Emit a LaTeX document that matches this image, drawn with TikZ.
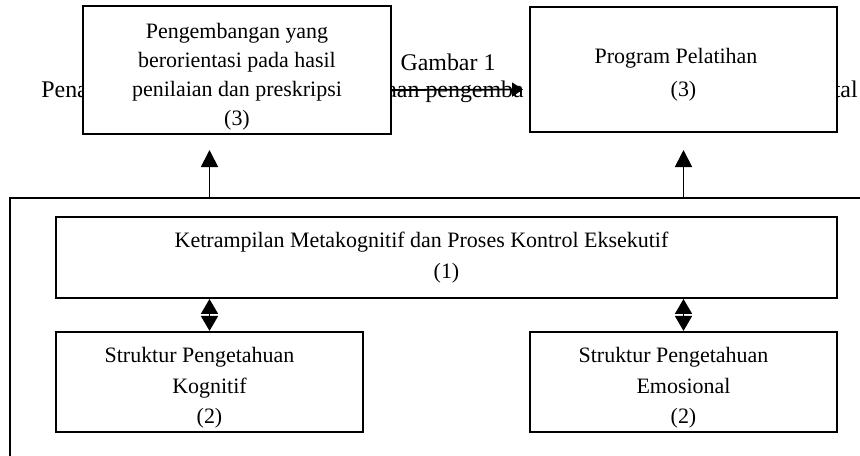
\documentclass[tikz,border=0pt]{standalone}
\usepackage{fontspec}
\setmainfont{Liberation Serif}
\usetikzlibrary{arrows.meta, positioning, calc}

\begin{document}
\begin{tikzpicture}[
  stagebox/.style={draw, line width=1.1pt, fill=white, align=center, inner sep=2pt, font=\fontsize{12.5}{17.5}\selectfont},
  caption/.style={font=\fontsize{13.6}{16}\selectfont, inner sep=0pt},
  link/.style={line width=1pt},
]
  \useasboundingbox (0,0) rectangle (17.2,-9.12);

  % Caption, mostly behind the boxes
  \node[caption, anchor=base] (fig) at (8.96,-1.40) {Gambar 1};
  \node[caption, anchor=base west] (capa) at (0.82,-1.94) {Pena};
  \node[caption, anchor=base west] (capb) at (7.72,-1.94) {aan pengemba};
  \node[caption, anchor=base east] (capc) at (17.16,-1.94) {tal};

  % Outcomes
  \node[stagebox, font=\fontsize{12.5}{16.5}\selectfont, minimum width=6.16cm, minimum height=2.52cm] (develop) at (4.74,-1.40) {
    \rule{0pt}{0.58cm}Pengembangan yang\\
    berorientasi pada hasil\\
    penilaian dan preskripsi\\
    (3)
  };
  \node[stagebox, minimum width=6.14cm, minimum height=2.5cm] (training) at (13.67,-1.39) {
    \rule{0pt}{0.5cm}Program Pelatihan\hspace*{0.3cm}\\[0.05cm]
    (3)
  };

  % Frame
  \coordinate (frameBL) at (0.2,-9.12);
  \coordinate (frameTR) at (17.2,-3.96);
  \coordinate (uptip) at (0,-3.0);
  \draw[link] (frameBL) |- (frameTR);

  % Inside the frame
  \node[stagebox, minimum width=15.62cm, minimum height=1.62cm] (meta) at (8.93,-5.15) {
    Ketrampilan Metakognitif dan Proses Kontrol Eksekutif\hspace*{1cm}\\
    (1)
  };
  \node[stagebox, minimum width=6.14cm, minimum height=1.92cm] (cognitive) at (4.19,-7.64) {
    \rule{0pt}{0.54cm}Struktur Pengetahuan\hspace*{0.4cm}\\
    Kognitif\\
    (2)
  };
  \node[stagebox, minimum width=6.14cm, minimum height=1.92cm] (emotional) at (13.67,-7.64) {
    \rule{0pt}{0.54cm}Struktur Pengetahuan\hspace*{0.4cm}\\
    Emosional\\
    (2)
  };

  % Arrows
  \draw[link, -{Triangle[length=0.22cm, width=0.28cm]}] ([yshift=-0.4cm]develop.east) -- ([xshift=-0.12cm, yshift=-0.4cm]training.west);
  \draw[link, -{Triangle[length=0.34cm, width=0.34cm]}] (cognitive.north |- frameTR) -- (cognitive.north |- uptip);
  \draw[link, -{Triangle[length=0.34cm, width=0.34cm]}] (training.south |- frameTR) -- (training.south |- uptip);
  \draw[link, {Triangle[length=0.3cm, width=0.34cm]}-{Triangle[length=0.3cm, width=0.34cm]}] (meta.south -| cognitive.north) -- (cognitive.north);
  \draw[link, {Triangle[length=0.3cm, width=0.34cm]}-{Triangle[length=0.3cm, width=0.34cm]}] (meta.south -| emotional.north) -- (emotional.north);
\end{tikzpicture}
\end{document}
